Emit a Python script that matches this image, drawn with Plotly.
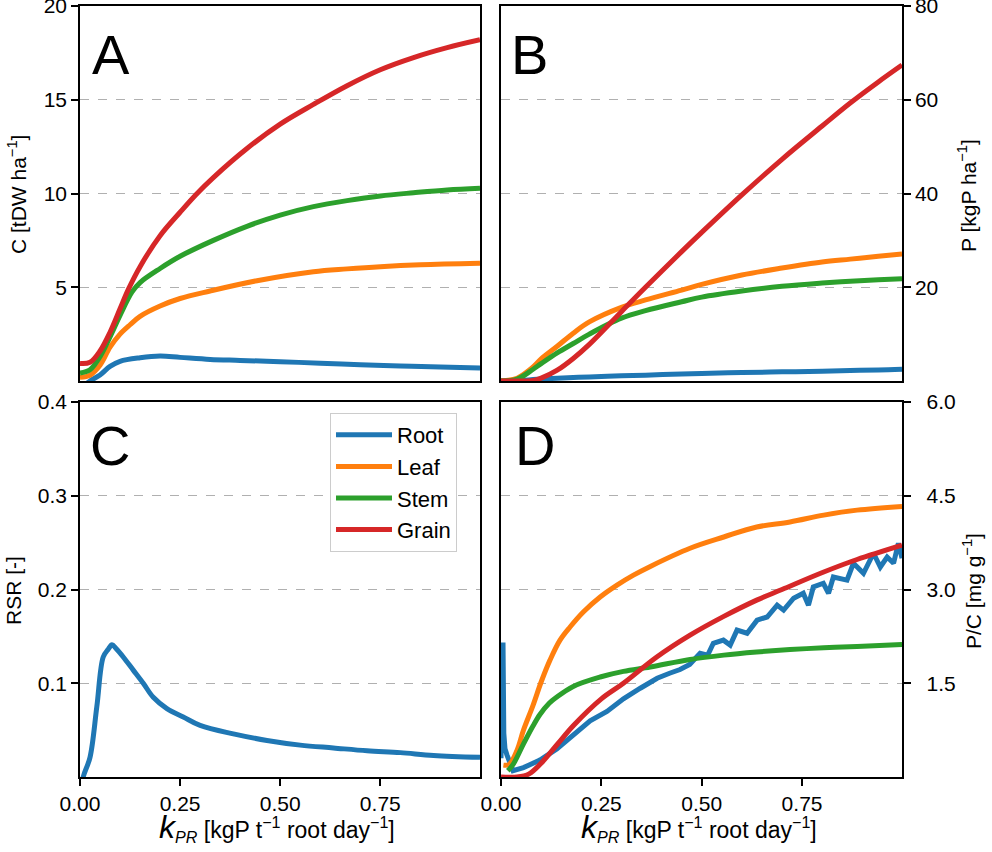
from plotly.subplots import make_subplots
import plotly.graph_objects as go

W, H = 992, 852
FONT = 'Liberation Sans'
PAD = '\u00a0\u00a0'

organs = ['Root', 'Leaf', 'Stem', 'Grain']
colors = ['#1f77b4', '#ff7f0e', '#2ca02c', '#d62728']

# panel A: carbon per organ [tDW/ha]
kA_root = [0, 0.025, 0.05, 0.075, 0.1, 0.15, 0.2, 0.25, 0.325, 0.4, 0.5, 0.6, 0.7, 0.8, 0.9, 0.999]
cRoot = [-0.4, 0.0, 0.32, 0.78, 1.05, 1.24, 1.33, 1.26, 1.15, 1.1, 1.03, 0.95, 0.87, 0.8, 0.75, 0.7]
kA_leaf = [0, 0.025, 0.05, 0.075, 0.1, 0.125, 0.15, 0.2, 0.25, 0.325, 0.442, 0.583, 0.667, 0.75, 0.85, 0.999]
cLeaf = [0.2, 0.31, 0.84, 1.8, 2.5, 3.0, 3.45, 4.0, 4.4, 4.8, 5.35, 5.83, 5.98, 6.1, 6.2, 6.28]
kA_stem = [0, 0.025, 0.05, 0.075, 0.1, 0.13, 0.15, 0.2, 0.25, 0.333, 0.417, 0.5, 0.583, 0.667, 0.75,
           0.833, 0.917, 0.999]
cStem = [0.42, 0.6, 1.3, 2.35, 3.5, 4.75, 5.25, 6.0, 6.65, 7.5, 8.25, 8.85, 9.3, 9.62, 9.87,
         10.04, 10.19, 10.28]
kA_grain = [0, 0.025, 0.05, 0.075, 0.1, 0.121, 0.15, 0.2, 0.25, 0.29, 0.333, 0.417, 0.5, 0.583, 0.667,
            0.75, 0.833, 0.917, 0.999]
cGrain = [0.94, 1.0, 1.6, 2.6, 3.85, 4.9, 6.1, 7.75, 9.0, 9.95, 10.85, 12.4, 13.7, 14.75, 15.75,
          16.6, 17.25, 17.78, 18.2]

# panel B: phosphorus per organ [kgP/ha]
kB = [0, 0.04, 0.08, 0.1, 0.14, 0.18, 0.22, 0.3, 0.36, 0.45, 0.5, 0.6, 0.7, 0.8, 0.87, 0.94, 0.999]
pRoot = [0, 0.1, 0.3, 0.4, 0.6, 0.75, 0.85, 1.1, 1.25, 1.5, 1.6, 1.8, 1.95, 2.1, 2.25, 2.35, 2.5]
pLeaf = [0, 0.6, 3.0, 4.7, 7.4, 10.2, 12.6, 15.7, 17.3, 19.4, 20.6, 22.6, 24.1, 25.4, 26.0, 26.6, 27.1]
pStem = [0, 0.4, 2.5, 3.7, 6.0, 8.0, 10.0, 13.4, 15.0, 16.9, 17.9, 19.2, 20.2, 20.9, 21.3, 21.6, 21.8]
pGrain = [0, 0, 0.1, 0.6, 2.3, 4.8, 7.8, 14.8, 20.0, 27.6, 31.7, 39.7, 47.3, 54.4, 59.3, 63.8, 67.4]

# panel C: root/shoot ratio
kC = [0, 0.008, 0.025, 0.042, 0.058, 0.07, 0.08, 0.09, 0.108, 0.133, 0.158, 0.183, 0.217, 0.258,
      0.3, 0.383, 0.467, 0.55, 0.633, 0.717, 0.8, 0.883, 0.999]
rsr = [-0.02, 0.0, 0.021, 0.075, 0.128, 0.136, 0.141, 0.137, 0.128, 0.114, 0.1, 0.085, 0.073, 0.064,
       0.055, 0.046, 0.039, 0.034, 0.031, 0.028, 0.026, 0.023, 0.021]

# panel D: P/C concentration [mg/g]
kD_root = [0, 0.003, 0.005, 0.007, 0.01, 0.015, 0.02, 0.03, 0.056, 0.097, 0.139, 0.18, 0.222, 0.264,
           0.305, 0.347, 0.389, 0.42, 0.446, 0.47, 0.496, 0.515, 0.529, 0.554, 0.571, 0.588, 0.613,
           0.638, 0.663, 0.688, 0.704, 0.729, 0.753, 0.766, 0.778, 0.803, 0.816, 0.828, 0.862, 0.878,
           0.903, 0.928, 0.945, 0.962, 0.978, 0.99, 0.999]
pcRoot = [0.3, 1.0, 2.15, 0.7, 0.45, 0.35, 0.25, 0.1, 0.15, 0.27, 0.45, 0.67, 0.9, 1.05,
          1.25, 1.42, 1.58, 1.66, 1.72, 1.8, 1.98, 1.95, 2.14, 2.19, 2.11, 2.35, 2.3,
          2.51, 2.56, 2.75, 2.67, 2.86, 2.94, 2.75, 3.04, 3.1, 2.94, 3.2, 3.15, 3.42,
          3.26, 3.58, 3.36, 3.52, 3.42, 3.74, 3.5]
kD_leaf = [0.006, 0.02, 0.04, 0.056, 0.08, 0.1, 0.122, 0.147, 0.172, 0.205, 0.247, 0.289, 0.33, 0.372,
           0.471, 0.555, 0.637, 0.72, 0.804, 0.887, 0.999]
pcLeaf = [0.19, 0.2, 0.43, 0.75, 1.15, 1.52, 1.87, 2.19, 2.4, 2.64, 2.88, 3.07, 3.23, 3.37,
          3.66, 3.84, 4.0, 4.08, 4.19, 4.27, 4.33]
kD_stem = [0.017, 0.031, 0.056, 0.08, 0.097, 0.12, 0.139, 0.18, 0.247, 0.305, 0.372, 0.471, 0.555,
           0.637, 0.72, 0.804, 0.887, 0.999]
pcStem = [0.1, 0.21, 0.53, 0.82, 1.0, 1.18, 1.28, 1.45, 1.6, 1.69, 1.76, 1.88, 1.95, 2.0,
          2.04, 2.07, 2.09, 2.12]
kD_grain = [0, 0.04, 0.07, 0.1, 0.14, 0.18, 0.25, 0.305, 0.388, 0.471, 0.555, 0.637, 0.7, 0.804,
            0.887, 0.999]
pcGrain = [0, 0, 0.05, 0.22, 0.52, 0.82, 1.25, 1.5, 1.92, 2.27, 2.57, 2.83, 3.0, 3.28, 3.48, 3.71]

fig = make_subplots(rows=2, cols=2)


def line(x, y, i, show=False, shape='spline'):
    return go.Scatter(x=x, y=y, mode='lines', name=organs[i], legendgroup=organs[i],
                      showlegend=show, line=dict(color=colors[i], width=5, shape=shape))


# A
for i, (x, y) in enumerate([(kA_root, cRoot), (kA_leaf, cLeaf), (kA_stem, cStem), (kA_grain, cGrain)]):
    fig.add_trace(line(x, y, i), row=1, col=1)
# B
for i, y in enumerate([pRoot, pLeaf, pStem, pGrain]):
    fig.add_trace(line(kB, y, i), row=1, col=2)
# C (legend lives here)
fig.add_trace(line(kC, rsr, 0, True), row=2, col=1)
for i in [1, 2, 3]:
    fig.add_trace(go.Scatter(x=[None], y=[None], mode='lines', name=organs[i], legendgroup=organs[i],
                             line=dict(color=colors[i], width=5)), row=2, col=1)
# D
fig.add_trace(line(kD_root, pcRoot, 0, shape='linear'), row=2, col=2)
fig.add_trace(line(kD_leaf, pcLeaf, 1), row=2, col=2)
fig.add_trace(line(kD_stem, pcStem, 2), row=2, col=2)
fig.add_trace(line(kD_grain, pcGrain, 3), row=2, col=2)

xl = [80 / W, 480 / W]
xr = [501 / W, 902 / W]
yt = [1 - 381 / H, 1 - 6 / H]
yb = [1 - 777 / H, 1 - 402 / H]

axis_style = dict(showline=True, linecolor='black', linewidth=1.5, mirror=True,
                  ticks='outside', ticklen=7, tickwidth=1.5, tickcolor='black',
                  zeroline=False, automargin=False, ticklabeloverflow='allow',
                  tickfont=dict(family=FONT, size=21, color='black'))

for (r, c, dom) in [(1, 1, xl), (1, 2, xr), (2, 1, xl), (2, 2, xr)]:
    fig.update_xaxes(domain=dom, range=[0, 0.999], tickvals=[0, 0.25, 0.5, 0.75],
                     ticktext=['0.00', '0.25', '0.50', '0.75'], showgrid=False,
                     row=r, col=c, **axis_style)
fig.update_xaxes(showticklabels=False, ticks='', row=1, col=1)
fig.update_xaxes(showticklabels=False, ticks='', row=1, col=2)

grid = dict(showgrid=True, gridcolor='#b0b0b0', griddash='dash', gridwidth=1)
fig.update_yaxes(domain=yt, range=[0, 20], tickvals=[5, 10, 15, 20], ticksuffix=PAD,
                 row=1, col=1, **grid, **axis_style)
fig.update_yaxes(domain=yt, range=[0, 80], tickvals=[20, 40, 60, 80], tickprefix=PAD, side='right',
                 row=1, col=2, **grid, **axis_style)
fig.update_yaxes(domain=yb, range=[0, 0.4], tickvals=[0.1, 0.2, 0.3, 0.4], ticksuffix=PAD,
                 row=2, col=1, **grid, **axis_style)
fig.update_yaxes(domain=yb, range=[0, 6], tickvals=[1.5, 3.0, 4.5, 6.0],
                 ticktext=[PAD + t for t in ['1.5', '3.0', '4.5', '6.0']], side='right',
                 row=2, col=2, **grid, **axis_style)


def note(txt, px, py, size, angle=0):
    return dict(text=txt, x=px / W, y=1 - py / H, xref='paper', yref='paper',
                xanchor='center', yanchor='middle', textangle=angle, showarrow=False,
                font=dict(family=FONT, size=size, color='black'))


ann = []
# panel letters
for txt, px, py in [('A', 111, 55), ('B', 529, 55), ('C', 110, 445), ('D', 535, 445)]:
    ann.append(note(txt, px, py, 56))
# axis titles
ytitles = [('C [tDW ha<sup>−1</sup>]', 17, 195), ('P [kgP ha<sup>−1</sup>]', 967, 196),
           ('RSR [-]', 13, 591), ('P/C [mg g<sup>−1</sup>]', 972, 591)]
for txt, px, py in ytitles:
    ann.append(note(txt, px, py, 21, -90))
xtitle = ("<span style='font-size:32px'><i>k</i></span><sub><i>PR</i></sub>"
          " [kgP t<sup>−1</sup> root day<sup>−1</sup>]")
for px in [277, 699]:
    ann.append(note(xtitle, px, 827, 23))

fig.update_layout(
    width=W, height=H,
    margin=dict(l=0, r=0, t=0, b=0),
    plot_bgcolor='white', paper_bgcolor='white',
    annotations=ann,
    legend=dict(x=330 / W, y=1 - 413 / H, xanchor='left', yanchor='top',
                bgcolor='white', bordercolor='#cccccc', borderwidth=1, itemwidth=56,
                font=dict(family=FONT, size=22, color='black'), tracegroupgap=0),
)

# drop the default 8px page margin so the figure sits at the window corner
fig.write_html('out.html', config={'displayModeBar': False},
               post_script="document.body.style.margin='0px';")
